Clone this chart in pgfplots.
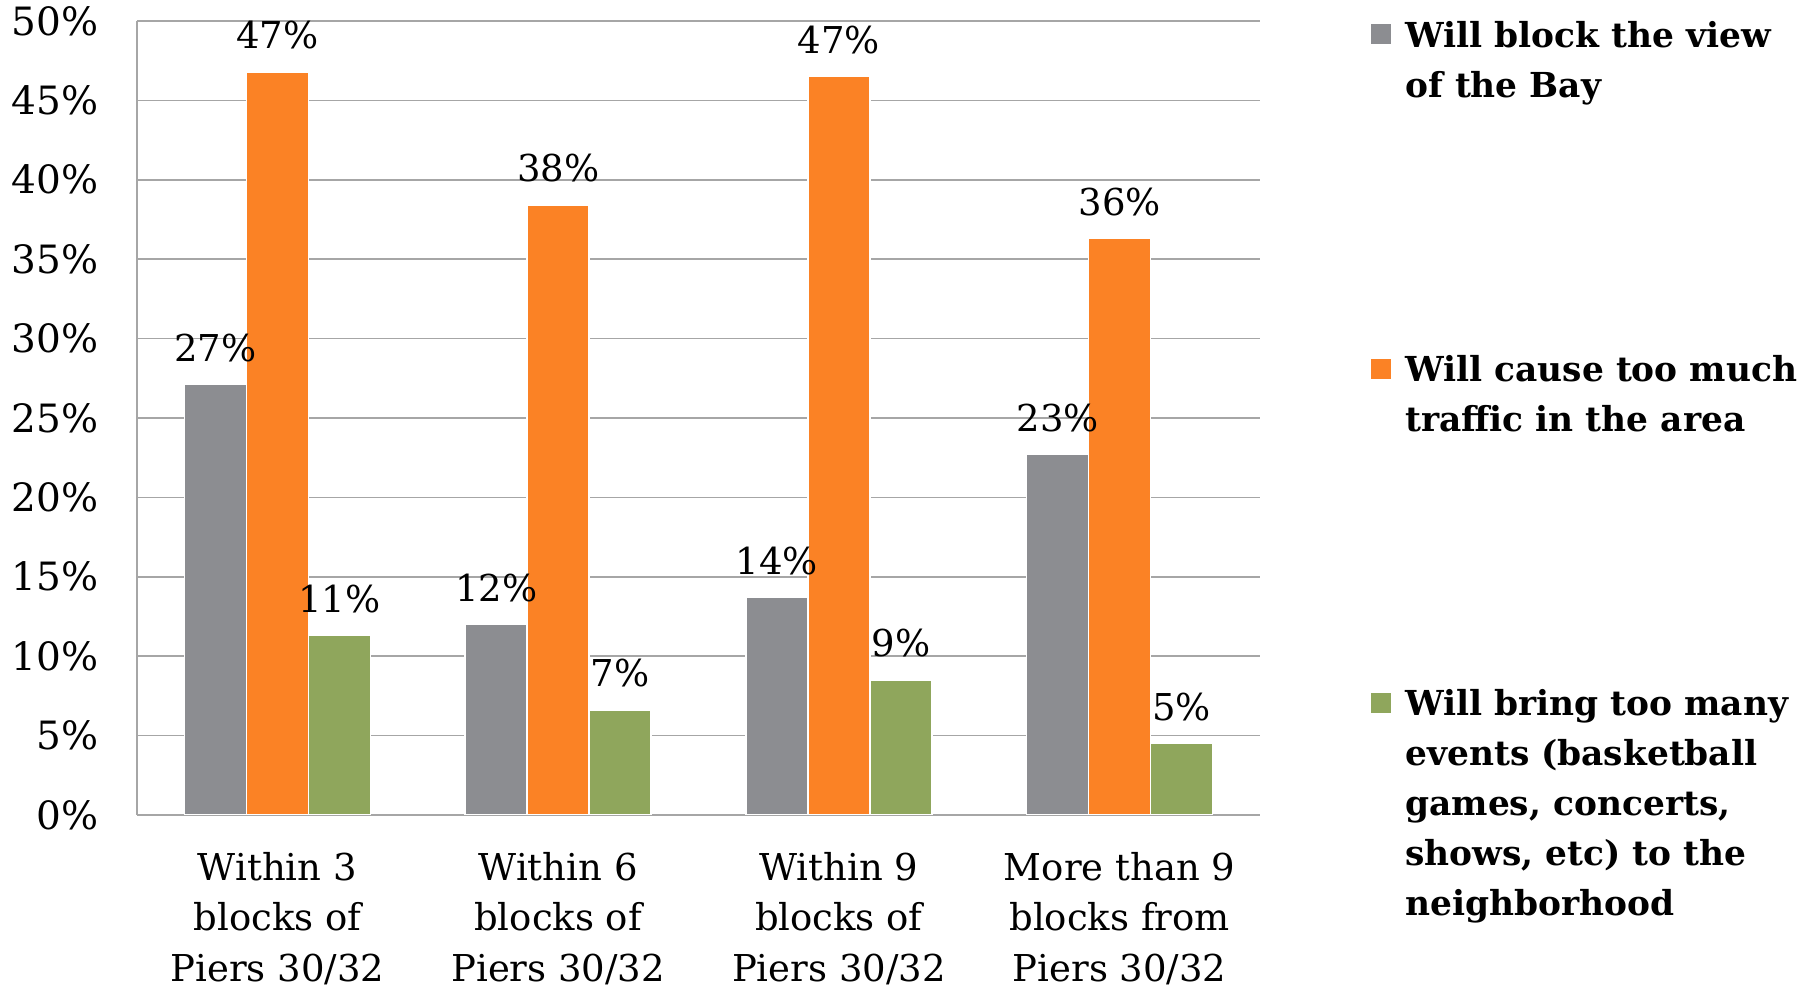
\documentclass[border=0pt]{standalone}
\usepackage{fontspec}
\setmainfont{DejaVu Serif}
\usepackage{pgfplots}
\pgfplotsset{compat=1.18}
\definecolor{cgray}{HTML}{8C8D91}
\definecolor{corange}{HTML}{FB8225}
\definecolor{cgreen}{HTML}{8FA65C}
\definecolor{gridc}{HTML}{A6A6A6}
\begin{document}
\begin{tikzpicture}
\path[use as bounding box] (-68.5pt,-87.5pt) rectangle (839.5pt,407.5pt);
\begin{axis}[
  at={(0pt,0pt)}, anchor=south west,
  width=561.5pt, height=397pt, scale only axis,
  ybar, bar width=31pt,
  xmin=-0.5, xmax=3.5, ymin=0, ymax=50,
  xtick={0,1,2,3},
  xticklabels={{Within 3\\blocks of\\Piers 30/32},{Within 6\\blocks of\\Piers 30/32},{Within 9\\blocks of\\Piers 30/32},{More than 9\\blocks from\\Piers 30/32}},
  xticklabel style={font=\fontsize{18.5}{25.3}\selectfont, align=center, anchor=north, yshift=-15pt},
  ytick={0,5,...,50},
  yticklabel={\pgfmathprintnumber{\tick}\%},
  yticklabel style={font=\fontsize{19.5}{22}\selectfont, xshift=-15.7pt},
  /pgf/number format/assume math mode=true,
  ymajorgrids, grid style={gridc, line width=0.8pt},
  axis x line*=bottom, axis y line*=left,
  axis line style={gridc, line width=0.8pt, -},
  major tick length=0pt,
  point meta=explicit symbolic,
  nodes near coords={\pgfplotspointmeta},
  nodes near coords style={font=\fontsize{18.5}{22}\selectfont, anchor=south, inner sep=0pt, yshift=11pt, black},
  legend style={at={(axis description cs:1.0988,1.0113)}, anchor=north west, draw=none, fill=none, inner sep=0pt, row sep=149.6pt, column sep=7pt, nodes={inner sep=0pt, text depth=0pt}, font=\fontsize{17.2}{25}\bfseries\selectfont},
  legend cell align=left,
  legend image code/.code={\fill[#1, draw=none] (0pt,-7.25pt) rectangle (10pt,2.75pt);},
]
\addplot[fill=cgray, draw=white, line width=0.8pt, bar shift=-31pt] coordinates {(0,27.1) [27\%] (1,12.0) [12\%] (2,13.7) [14\%] (3,22.7) [23\%]};
\addlegendentry{\begin{tabular}[t]{@{}l@{}}Will block the view\\of the Bay\end{tabular}}
\addplot[fill=corange, draw=white, line width=0.8pt, bar shift=0pt] coordinates {(0,46.8) [47\%] (1,38.4) [38\%] (2,46.5) [47\%] (3,36.3) [36\%]};
\addlegendentry{\begin{tabular}[t]{@{}l@{}}Will cause too much\\traffic in the area\end{tabular}}
\addplot[fill=cgreen, draw=white, line width=0.8pt, bar shift=31pt] coordinates {(0,11.3) [11\%] (1,6.6) [7\%] (2,8.5) [9\%] (3,4.5) [5\%]};
\addlegendentry{\begin{tabular}[t]{@{}l@{}}Will bring too many\\events (basketball\\games, concerts,\\shows, etc) to the\\neighborhood\end{tabular}}
\end{axis}
\end{tikzpicture}
\end{document}
